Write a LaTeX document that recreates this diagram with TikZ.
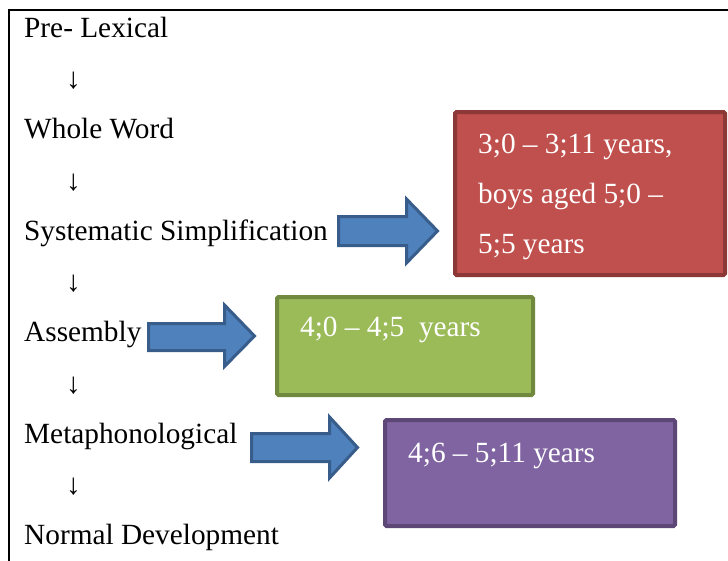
\documentclass[tikz,border=0pt]{standalone}
\usepackage{fontspec}
\setmainfont{Liberation Serif}
\definecolor{arrowfill}{HTML}{4F81BD}
\definecolor{arrowline}{HTML}{385D8A}
\definecolor{redfill}{HTML}{C0504D}
\definecolor{redline}{HTML}{8C3836}
\definecolor{greenfill}{HTML}{9BBB59}
\definecolor{greenline}{HTML}{71893F}
\definecolor{purplefill}{HTML}{8064A2}
\definecolor{purpleline}{HTML}{5C4776}
\begin{document}
\begin{tikzpicture}[x=1pt,y=-1pt,
  stage/.style={anchor=base west,inner sep=0pt,font=\fontsize{29.3}{34}\selectfont},
  downarrow/.style={anchor=center,inner sep=0pt,font=\fontsize{29.3}{34}\selectfont},
  boxtext/.style={anchor=base west,inner sep=0pt,text=white,font=\fontsize{29.3}{34}\selectfont},
  agebox/.style={line width=4pt,rounded corners=1.5pt},
  blockarrow/.style={fill=arrowfill,draw=arrowline,line width=3pt,line join=miter}]
\useasboundingbox (0,0) rectangle (728,560);
% frame
\draw[line width=2pt] (9,570) -- (9,10) -- (740,10);
% stages
\node[stage] (s1) at (24,37) {Pre- Lexical};
\node[downarrow] (a1) at (73.5,81) {↓};
\node[stage] (s2) at (24,138.5) {Whole Word};
\node[downarrow] (a2) at (73.5,182.5) {↓};
\node[stage] (s3) at (24,240) {Systematic Simplification};
\node[downarrow] (a3) at (73.5,284) {↓};
\node[stage] (s4) at (24,341.5) {Assembly};
\node[downarrow] (a4) at (73.5,385.5) {↓};
\node[stage] (s5) at (24,443) {Metaphonological};
\node[downarrow] (a5) at (73.5,487) {↓};
\node[stage] (s6) at (24,544.5) {Normal Development};
% boxes
\filldraw[agebox,fill=redfill,draw=redline] (455,112) rectangle (725,275);
\filldraw[agebox,fill=greenfill,draw=greenline] (277,297) rectangle (533,395);
\filldraw[agebox,fill=purplefill,draw=purpleline] (385,420) rectangle (675,526);
\node[boxtext] (r1) at (478,153) {3;0 – 3;11 years,};
\node[boxtext] (r2) at (478,203) {boys aged 5;0 –};
\node[boxtext] (r3) at (478,253) {5;5 years};
\node[boxtext] (g1) at (300,336) {4;0 – 4;5\ \ years};
\node[boxtext] (p1) at (408,462) {4;6 – 5;11 years};
% block arrows
\draw[blockarrow] (338.5,216.5) -- (406.5,216.5) -- (406.5,199) -- (437.5,231) -- (406.5,263) -- (406.5,245.5) -- (338.5,245.5) -- cycle;
\draw[blockarrow] (148.5,323.5) -- (224.5,323.5) -- (224.5,305) -- (254.5,336) -- (224.5,366.5) -- (224.5,350.5) -- (148.5,350.5) -- cycle;
\draw[blockarrow] (251.5,433.5) -- (329.5,433.5) -- (329.5,417) -- (357.5,447.5) -- (329.5,478) -- (329.5,461.5) -- (251.5,461.5) -- cycle;
\end{tikzpicture}
\end{document}
